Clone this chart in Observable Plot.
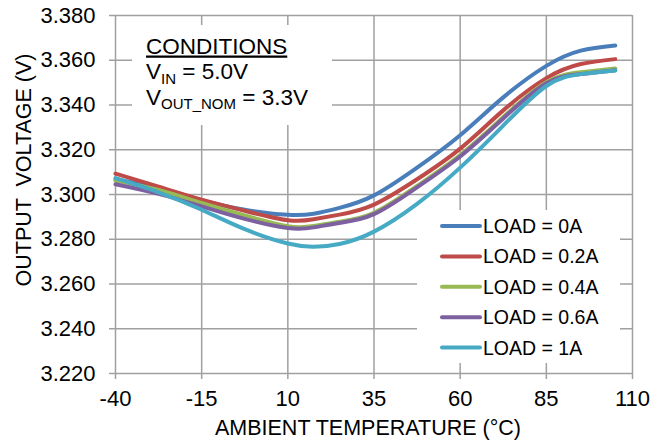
<!DOCTYPE html>
<html>
<head>
<meta charset="utf-8">
<script src="https://cdn.jsdelivr.net/npm/d3@7"></script>
<script src="https://cdn.jsdelivr.net/npm/@observablehq/plot@0.6"></script>
<style>
  html, body { margin: 0; padding: 0; background: #fff; }
  #chart { position: relative; width: 668px; height: 441px; }
</style>
</head>
<body>
<div id="chart"></div>
<script>
// ---- data ----
const temps = [-40, -27.5, -15, -2.5, 10, 17.5, 25, 35, 47.5, 60, 72.5, 85, 95, 105];
const load0A   = [3.3068, 3.3028, 3.2975, 3.2932, 3.2909, 3.2914, 3.2940, 3.2996, 3.3120, 3.3265, 3.3434, 3.3575, 3.3643, 3.3666];
const load02A  = [3.3093, 3.3035, 3.2977, 3.2927, 3.2885, 3.2889, 3.2910, 3.2955, 3.3068, 3.3205, 3.3376, 3.3520, 3.3583, 3.3605];
const load04A  = [3.3062, 3.3020, 3.2962, 3.2906, 3.2858, 3.2859, 3.2878, 3.2918, 3.3038, 3.3176, 3.3346, 3.3502, 3.3546, 3.3563];
const load06A  = [3.3046, 3.3003, 3.2947, 3.2891, 3.2850, 3.2853, 3.2873, 3.2912, 3.3032, 3.3170, 3.3340, 3.3497, 3.3538, 3.3555];
const load1A   = [3.3073, 3.3010, 3.2932, 3.2845, 3.2781, 3.2767, 3.2779, 3.2834, 3.2958, 3.3120, 3.3308, 3.3485, 3.3538, 3.3554];
const seriesNames = ["LOAD = 0A", "LOAD = 0.2A", "LOAD = 0.4A", "LOAD = 0.6A", "LOAD = 1A"];
const seriesValues = [load0A, load02A, load04A, load06A, load1A];
const seriesColors = ["#4a7ebb", "#be4b48", "#98b954", "#7d60a0", "#46aac5"];
const xTicks = [-40, -15, 10, 35, 60, 85, 110];
const yTicks = [3.22, 3.24, 3.26, 3.28, 3.30, 3.32, 3.34, 3.36, 3.38];
const xTitle = "AMBIENT TEMPERATURE (°C)";
const yTitle = "OUTPUT  VOLTAGE (V)";

// ---- build table ----
const rows = [];
seriesNames.forEach((name, i) => {
  temps.forEach((t, j) => rows.push({series: name, temp: t, v: seriesValues[i][j]}));
});

const FONT = "'Liberation Sans', Arial, Helvetica, sans-serif";
const GRID = "#a0a0a0";

const plot = Plot.plot({
  width: 668,
  height: 441,
  marginLeft: 115,
  marginRight: 36,
  marginTop: 15,
  marginBottom: 68,
  style: {fontFamily: FONT, fontSize: "22px", color: "#000", background: "#fff", overflow: "visible"},
  x: {domain: [-40, 110], label: null},
  y: {domain: [3.22, 3.38], label: null},
  color: {domain: seriesNames, range: seriesColors},
  marks: [
    Plot.gridX(xTicks, {stroke: GRID, strokeOpacity: 1, strokeWidth: 1.5}),
    Plot.gridY(yTicks, {stroke: GRID, strokeOpacity: 1, strokeWidth: 1.5}),
    Plot.axisX(xTicks, {stroke: GRID, strokeWidth: 1.5, tickSize: 6, tickPadding: 11, fill: "#000", label: null, tickFormat: d => String(d)}),
    Plot.axisY(yTicks, {stroke: GRID, strokeWidth: 1.5, tickSize: 6, tickPadding: 14, tickFormat: d => d.toFixed(3), fill: "#000", label: null}),
    Plot.line(rows, {x: "temp", y: "v", stroke: "series", z: "series", strokeWidth: 4, curve: "natural"})
  ]
});

document.getElementById("chart").appendChild(plot);

// ---- annotations (titles, conditions box, legend) ----
const svg = d3.select(plot);

// x title
svg.append("text")
  .attr("x", 368).attr("y", 435)
  .attr("text-anchor", "middle")
  .style("font-size", "21.5px").attr("fill", "#000")
  .text(xTitle);

// y title
svg.append("text")
  .attr("transform", "translate(31,170) rotate(-90)")
  .attr("text-anchor", "middle")
  .style("font-size", "21.5px").attr("fill", "#000")
  .text(yTitle);

// conditions box
svg.append("rect").attr("x", 132).attr("y", 25).attr("width", 200).attr("height", 100).attr("fill", "#fff");
const cond = svg.append("g").attr("text-anchor", "start").style("font-size", "22.5px").attr("fill", "#000");
cond.append("text").attr("x", 146).attr("y", 53.5)
  .style("text-decoration", "underline")
  .text("CONDITIONS");
const t1 = cond.append("text").attr("x", 146).attr("y", 79);
t1.append("tspan").text("V");
t1.append("tspan").attr("dy", 4.5).style("font-size", "15px").text("IN");
t1.append("tspan").attr("dy", -4.5).text(" = 5.0V");
const t2 = cond.append("text").attr("x", 146).attr("y", 104.5);
t2.append("tspan").text("V");
t2.append("tspan").attr("dy", 4.5).style("font-size", "15px").text("OUT_NOM");
t2.append("tspan").attr("dy", -4.5).text(" = 3.3V");

// legend box
svg.append("rect").attr("x", 417).attr("y", 210).attr("width", 203).attr("height", 153).attr("fill", "#fff");
const lg = svg.append("g").attr("text-anchor", "start");
seriesNames.forEach((name, i) => {
  const cy = 226 + i * 30.4;
  lg.append("line").attr("x1", 442).attr("x2", 480).attr("y1", cy).attr("y2", cy)
    .attr("stroke", seriesColors[i]).attr("stroke-width", 4).attr("stroke-linecap", "round");
  lg.append("text").attr("x", 483).attr("y", cy).attr("dy", "0.36em")
    .style("font-size", "19.5px").attr("fill", "#000").text(name);
});
</script>
</body>
</html>
